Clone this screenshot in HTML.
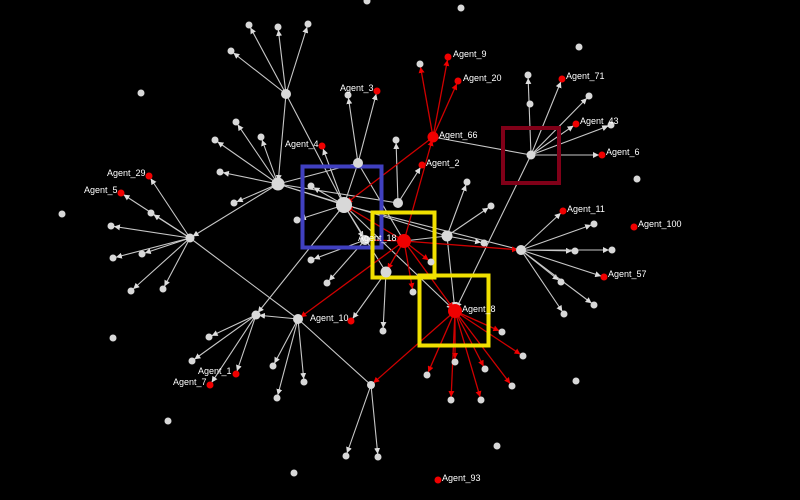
<!DOCTYPE html>
<html><head><meta charset="utf-8"><style>
html,body{margin:0;padding:0;background:#000;width:800px;height:500px;overflow:hidden}
svg{display:block}
text{font-family:"Liberation Sans",sans-serif;font-size:9px;fill:#fff}
.g line{stroke:#c8c8c8;stroke-width:1.1}
.r line{stroke:#d00000;stroke-width:1.3}
</style></head><body>
<svg width="800" height="500" viewBox="0 0 800 500">
<defs>
<marker id="ag" markerWidth="6" markerHeight="6" refX="9" refY="3" orient="auto" markerUnits="userSpaceOnUse" viewBox="0 0 6 6"><path d="M0,0L6,3L0,6z" fill="#ddd"/></marker>
<marker id="ar" markerWidth="6" markerHeight="6" refX="9" refY="3" orient="auto" markerUnits="userSpaceOnUse" viewBox="0 0 6 6"><path d="M0,0L6,3L0,6z" fill="#e00"/></marker>
</defs>
<g class="g">
<line x1="286" y1="94" x2="249" y2="25" marker-end="url(#ag)"/>
<line x1="286" y1="94" x2="278" y2="27" marker-end="url(#ag)"/>
<line x1="286" y1="94" x2="308" y2="24" marker-end="url(#ag)"/>
<line x1="286" y1="94" x2="231" y2="51" marker-end="url(#ag)"/>
<line x1="286" y1="94" x2="278" y2="184" marker-end="url(#ag)"/>
<line x1="286" y1="94" x2="344" y2="205"/>
<line x1="278" y1="184" x2="215" y2="140" marker-end="url(#ag)"/>
<line x1="278" y1="184" x2="236" y2="122" marker-end="url(#ag)"/>
<line x1="278" y1="184" x2="261" y2="137" marker-end="url(#ag)"/>
<line x1="278" y1="184" x2="220" y2="172" marker-end="url(#ag)"/>
<line x1="278" y1="184" x2="234" y2="203" marker-end="url(#ag)"/>
<line x1="278" y1="184" x2="190" y2="238" marker-end="url(#ag)"/>
<line x1="278" y1="184" x2="344" y2="205"/>
<line x1="278" y1="184" x2="398" y2="203"/>
<line x1="278" y1="184" x2="447" y2="236"/>
<line x1="358" y1="163" x2="278" y2="184"/>
<line x1="190" y1="238" x2="149" y2="176" marker-end="url(#ag)"/>
<line x1="190" y1="238" x2="121" y2="193" marker-end="url(#ag)"/>
<line x1="190" y1="238" x2="151" y2="213" marker-end="url(#ag)"/>
<line x1="190" y1="238" x2="111" y2="226" marker-end="url(#ag)"/>
<line x1="190" y1="238" x2="113" y2="258" marker-end="url(#ag)"/>
<line x1="190" y1="238" x2="142" y2="254" marker-end="url(#ag)"/>
<line x1="190" y1="238" x2="131" y2="291" marker-end="url(#ag)"/>
<line x1="190" y1="238" x2="163" y2="289" marker-end="url(#ag)"/>
<line x1="190" y1="238" x2="298" y2="319"/>
<line x1="344" y1="205" x2="322" y2="146" marker-end="url(#ag)"/>
<line x1="344" y1="205" x2="311" y2="186" marker-end="url(#ag)"/>
<line x1="344" y1="205" x2="297" y2="220" marker-end="url(#ag)"/>
<line x1="344" y1="205" x2="365" y2="240" marker-end="url(#ag)"/>
<line x1="344" y1="205" x2="256" y2="315" marker-end="url(#ag)"/>
<line x1="344" y1="205" x2="386" y2="272"/>
<line x1="344" y1="205" x2="521" y2="250"/>
<line x1="358" y1="163" x2="348" y2="95" marker-end="url(#ag)"/>
<line x1="358" y1="163" x2="377" y2="91" marker-end="url(#ag)"/>
<line x1="358" y1="163" x2="344" y2="205"/>
<line x1="358" y1="163" x2="404" y2="241"/>
<line x1="398" y1="203" x2="396" y2="140" marker-end="url(#ag)"/>
<line x1="398" y1="203" x2="422" y2="165" marker-end="url(#ag)"/>
<line x1="365" y1="240" x2="311" y2="260" marker-end="url(#ag)"/>
<line x1="365" y1="240" x2="327" y2="283" marker-end="url(#ag)"/>
<line x1="386" y1="272" x2="383" y2="331" marker-end="url(#ag)"/>
<line x1="386" y1="272" x2="351" y2="321" marker-end="url(#ag)"/>
<line x1="447" y1="236" x2="467" y2="182" marker-end="url(#ag)"/>
<line x1="447" y1="236" x2="491" y2="206" marker-end="url(#ag)"/>
<line x1="447" y1="236" x2="484" y2="243" marker-end="url(#ag)"/>
<line x1="447" y1="236" x2="455" y2="311" marker-end="url(#ag)"/>
<line x1="404" y1="241" x2="447" y2="236"/>
<line x1="344" y1="205" x2="455" y2="311" marker-end="url(#ag)"/>
<line x1="521" y1="250" x2="563" y2="211" marker-end="url(#ag)"/>
<line x1="521" y1="250" x2="594" y2="224" marker-end="url(#ag)"/>
<line x1="521" y1="250" x2="575" y2="251" marker-end="url(#ag)"/>
<line x1="521" y1="250" x2="612" y2="250" marker-end="url(#ag)"/>
<line x1="521" y1="250" x2="604" y2="277" marker-end="url(#ag)"/>
<line x1="521" y1="250" x2="561" y2="282" marker-end="url(#ag)"/>
<line x1="521" y1="250" x2="594" y2="305" marker-end="url(#ag)"/>
<line x1="521" y1="250" x2="564" y2="314" marker-end="url(#ag)"/>
<line x1="531" y1="155" x2="528" y2="75" marker-end="url(#ag)"/>
<line x1="531" y1="155" x2="562" y2="79" marker-end="url(#ag)"/>
<line x1="531" y1="155" x2="589" y2="96" marker-end="url(#ag)"/>
<line x1="531" y1="155" x2="576" y2="124" marker-end="url(#ag)"/>
<line x1="531" y1="155" x2="611" y2="125" marker-end="url(#ag)"/>
<line x1="531" y1="155" x2="602" y2="155" marker-end="url(#ag)"/>
<line x1="531" y1="155" x2="433" y2="137"/>
<line x1="531" y1="155" x2="455" y2="311" marker-end="url(#ag)"/>
<line x1="256" y1="315" x2="209" y2="337" marker-end="url(#ag)"/>
<line x1="256" y1="315" x2="192" y2="361" marker-end="url(#ag)"/>
<line x1="256" y1="315" x2="236" y2="374" marker-end="url(#ag)"/>
<line x1="256" y1="315" x2="210" y2="385" marker-end="url(#ag)"/>
<line x1="298" y1="319" x2="256" y2="315" marker-end="url(#ag)"/>
<line x1="298" y1="319" x2="273" y2="366" marker-end="url(#ag)"/>
<line x1="298" y1="319" x2="304" y2="382" marker-end="url(#ag)"/>
<line x1="298" y1="319" x2="277" y2="398" marker-end="url(#ag)"/>
<line x1="298" y1="319" x2="371" y2="385"/>
<line x1="371" y1="385" x2="346" y2="456" marker-end="url(#ag)"/>
<line x1="371" y1="385" x2="378" y2="457" marker-end="url(#ag)"/>
</g>
<g class="r">
<line x1="433" y1="137" x2="420" y2="64" marker-end="url(#ar)"/>
<line x1="433" y1="137" x2="448" y2="57" marker-end="url(#ar)"/>
<line x1="433" y1="137" x2="458" y2="81" marker-end="url(#ar)"/>
<line x1="433" y1="137" x2="344" y2="205" marker-end="url(#ar)"/>
<line x1="404" y1="241" x2="433" y2="137" marker-end="url(#ar)"/>
<line x1="404" y1="241" x2="344" y2="205" marker-end="url(#ar)"/>
<line x1="404" y1="241" x2="521" y2="250" marker-end="url(#ar)"/>
<line x1="404" y1="241" x2="298" y2="319" marker-end="url(#ar)"/>
<line x1="404" y1="241" x2="386" y2="272" marker-end="url(#ar)"/>
<line x1="404" y1="241" x2="413" y2="292" marker-end="url(#ar)"/>
<line x1="404" y1="241" x2="431" y2="262" marker-end="url(#ar)"/>
<line x1="404" y1="241" x2="455" y2="311" marker-end="url(#ar)"/>
<line x1="404" y1="241" x2="365" y2="240"/>
<line x1="455" y1="311" x2="502" y2="332" marker-end="url(#ar)"/>
<line x1="455" y1="311" x2="523" y2="356" marker-end="url(#ar)"/>
<line x1="455" y1="311" x2="427" y2="375" marker-end="url(#ar)"/>
<line x1="455" y1="311" x2="455" y2="362" marker-end="url(#ar)"/>
<line x1="455" y1="311" x2="485" y2="369" marker-end="url(#ar)"/>
<line x1="455" y1="311" x2="512" y2="386" marker-end="url(#ar)"/>
<line x1="455" y1="311" x2="451" y2="400" marker-end="url(#ar)"/>
<line x1="455" y1="311" x2="481" y2="400" marker-end="url(#ar)"/>
<line x1="455" y1="311" x2="371" y2="385" marker-end="url(#ar)"/>
</g>
<rect x="302.5" y="166.5" width="79" height="81" fill="none" stroke="#4040c0" stroke-width="4"/>
<rect x="372.5" y="212.5" width="62" height="65" fill="none" stroke="#f0e000" stroke-width="4"/>
<rect x="419.5" y="275.5" width="69" height="70" fill="none" stroke="#f0e000" stroke-width="4"/>
<rect x="503" y="128" width="56" height="55" fill="none" stroke="#800018" stroke-width="4"/>
<g fill="#d8d8d8">
<circle cx="286" cy="94" r="5"/><circle cx="249" cy="25" r="3.5"/><circle cx="278" cy="27" r="3.5"/><circle cx="308" cy="24" r="3.5"/><circle cx="231" cy="51" r="3.5"/>
<circle cx="278" cy="184" r="6.5"/><circle cx="215" cy="140" r="3.5"/><circle cx="236" cy="122" r="3.5"/><circle cx="261" cy="137" r="3.5"/><circle cx="220" cy="172" r="3.5"/><circle cx="234" cy="203" r="3.5"/>
<circle cx="190" cy="238" r="4.5"/><circle cx="151" cy="213" r="3.5"/><circle cx="111" cy="226" r="3.5"/><circle cx="113" cy="258" r="3.5"/><circle cx="142" cy="254" r="3.5"/><circle cx="131" cy="291" r="3.5"/><circle cx="163" cy="289" r="3.5"/>
<circle cx="344" cy="205" r="8"/><circle cx="311" cy="186" r="3.5"/><circle cx="297" cy="220" r="3.5"/><circle cx="358" cy="163" r="5"/><circle cx="348" cy="95" r="3.5"/>
<circle cx="398" cy="203" r="5"/><circle cx="396" cy="140" r="3.5"/><circle cx="365" cy="240" r="5"/><circle cx="311" cy="260" r="3.5"/><circle cx="327" cy="283" r="3.5"/>
<circle cx="386" cy="272" r="5.5"/><circle cx="383" cy="331" r="3.5"/><circle cx="413" cy="292" r="3.5"/><circle cx="431" cy="262" r="3.5"/>
<circle cx="447" cy="236" r="5.5"/><circle cx="467" cy="182" r="3.5"/><circle cx="491" cy="206" r="3.5"/><circle cx="484" cy="243" r="3.5"/>
<circle cx="521" cy="250" r="5"/><circle cx="594" cy="224" r="3.5"/><circle cx="575" cy="251" r="3.5"/><circle cx="612" cy="250" r="3.5"/><circle cx="561" cy="282" r="3.5"/><circle cx="594" cy="305" r="3.5"/><circle cx="564" cy="314" r="3.5"/>
<circle cx="531" cy="155" r="4.5"/><circle cx="528" cy="75" r="3.5"/><circle cx="530" cy="104" r="3.5"/><circle cx="589" cy="96" r="3.5"/><circle cx="611" cy="125" r="3.5"/>
<circle cx="420" cy="64" r="3.5"/>
<circle cx="502" cy="332" r="3.5"/><circle cx="523" cy="356" r="3.5"/><circle cx="427" cy="375" r="3.5"/><circle cx="455" cy="362" r="3.5"/><circle cx="485" cy="369" r="3.5"/><circle cx="512" cy="386" r="3.5"/><circle cx="451" cy="400" r="3.5"/><circle cx="481" cy="400" r="3.5"/>
<circle cx="256" cy="315" r="4.5"/><circle cx="298" cy="319" r="5"/><circle cx="209" cy="337" r="3.5"/><circle cx="192" cy="361" r="3.5"/><circle cx="273" cy="366" r="3.5"/><circle cx="304" cy="382" r="3.5"/><circle cx="277" cy="398" r="3.5"/>
<circle cx="371" cy="385" r="4"/><circle cx="346" cy="456" r="3.5"/><circle cx="378" cy="457" r="3.5"/>
<circle cx="141" cy="93" r="3.5"/><circle cx="62" cy="214" r="3.5"/><circle cx="113" cy="338" r="3.5"/><circle cx="168" cy="421" r="3.5"/><circle cx="294" cy="473" r="3.5"/><circle cx="497" cy="446" r="3.5"/><circle cx="576" cy="381" r="3.5"/><circle cx="637" cy="179" r="3.5"/><circle cx="579" cy="47" r="3.5"/><circle cx="461" cy="8" r="3.5"/><circle cx="367" cy="1" r="3.5"/>
</g>
<g fill="#f00000">
<circle cx="404" cy="241" r="7"/><circle cx="455" cy="311" r="7"/><circle cx="433" cy="137" r="5.5"/>
<circle cx="448" cy="57" r="3.5"/><circle cx="458" cy="81" r="3.5"/><circle cx="377" cy="91" r="3.5"/><circle cx="322" cy="146" r="3.5"/><circle cx="422" cy="165" r="3.5"/>
<circle cx="149" cy="176" r="3.5"/><circle cx="121" cy="193" r="3.5"/><circle cx="562" cy="79" r="3.5"/><circle cx="576" cy="124" r="3.5"/><circle cx="602" cy="155" r="3.5"/>
<circle cx="563" cy="211" r="3.5"/><circle cx="634" cy="227" r="3.5"/><circle cx="604" cy="277" r="3.5"/><circle cx="351" cy="321" r="3.5"/><circle cx="236" cy="374" r="3.5"/><circle cx="210" cy="385" r="3.5"/><circle cx="438" cy="480" r="3.5"/>
</g>
<text x="453" y="57">Agent_9</text>
<text x="463" y="81">Agent_20</text>
<text x="340" y="91">Agent_3</text>
<text x="566" y="79">Agent_71</text>
<text x="580" y="124">Agent_43</text>
<text x="606" y="155">Agent_6</text>
<text x="439" y="138">Agent_66</text>
<text x="285" y="147">Agent_4</text>
<text x="426" y="166">Agent_2</text>
<text x="107" y="176">Agent_29</text>
<text x="84" y="193">Agent_5</text>
<text x="567" y="212">Agent_11</text>
<text x="638" y="227">Agent_100</text>
<text x="358" y="241">Agent_18</text>
<text x="608" y="277">Agent_57</text>
<text x="462" y="312">Agent_8</text>
<text x="310" y="321">Agent_10</text>
<text x="198" y="374">Agent_1</text>
<text x="173" y="385">Agent_7</text>
<text x="442" y="481">Agent_93</text>
</svg>
</body></html>
